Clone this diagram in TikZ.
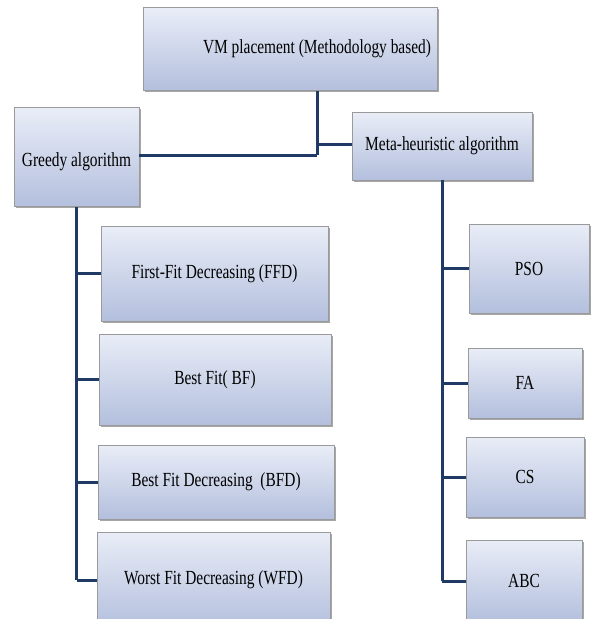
\documentclass[tikz,border=0pt]{standalone}
\usepackage{fontspec}
\usepackage{graphicx}
\setmainfont{Liberation Serif}
\usetikzlibrary{shadows}
\definecolor{linkc}{HTML}{1F3A64}
\definecolor{boxtop}{HTML}{E9EDF7}
\definecolor{boxbot}{HTML}{B3BFDD}
\definecolor{boxline}{HTML}{9A9A9A}
\newcommand{\sqz}[1]{\scalebox{0.77}[1]{#1}}
\tikzset{
  box/.style={draw=boxline, line width=0.8pt, top color=boxtop, bottom color=boxbot,
    drop shadow={shadow xshift=1.5pt, shadow yshift=-1.5pt, fill=black, opacity=0.35},
    inner sep=0pt, align=center, font=\fontsize{20}{22}\selectfont},
  link/.style={draw=linkc, line width=3pt}
}
\begin{document}
\begin{tikzpicture}[x=1pt,y=-1pt]
\useasboundingbox (0,0) rectangle (590,619);
\fill[white] (0,0) rectangle (590,619);
\node[box, minimum width=294pt, minimum height=83pt] (top) at (290,49) {\hspace*{54pt}\sqz{VM placement (Methodology based)}};
\node[box, minimum width=125pt, minimum height=99pt] (greedy) at (76.5,157) {\raisebox{-5pt}[\height][\depth]{\sqz{Greedy algorithm}}};
\node[box, minimum width=180pt, minimum height=68pt] (meta) at (442,146) {\sqz{Meta-heuristic algorithm}};
\node[box, minimum width=227pt, minimum height=95pt] (ffd) at (214.5,273.5) {\sqz{First-Fit Decreasing (FFD)}};
\node[box, minimum width=232pt, minimum height=91pt] (bf) at (215,379.5) {\sqz{Best Fit( BF)}};
\node[box, minimum width=236pt, minimum height=74pt] (bfd) at (216,482) {\sqz{Best Fit Decreasing~~(BFD)}};
\node[box, minimum width=233pt, minimum height=96pt] (wfd) at (213.5,580) {\sqz{Worst Fit Decreasing (WFD)}};
\node[box, minimum width=120pt, minimum height=89pt] (pso) at (529,268.5) {\sqz{PSO}};
\node[box, minimum width=114pt, minimum height=70pt] (fa) at (525,383) {\sqz{FA}};
\node[box, minimum width=118pt, minimum height=80pt] (cs) at (525,477) {\sqz{CS}};
\node[box, minimum width=116pt, minimum height=82pt] (abc) at (524,581) {\sqz{ABC}};
\coordinate (j) at (317,155);
\draw[link] (top.south -| j) -- (j);
\draw[link] (greedy.east |- j) -- (j);
\draw[link] (meta.west |- 0,144) -- (j |- 0,144);
\draw[link] (greedy.south) -- (greedy.south |- wfd.west);
\foreach \n in {ffd,bf,bfd,wfd} \draw[link] (greedy.south |- \n.west) -- (\n.west);
\draw[link] (meta.south) -- (meta.south |- abc.west);
\foreach \n in {pso,fa,cs,abc} \draw[link] (meta.south |- \n.west) -- (\n.west);
\end{tikzpicture}
\end{document}
